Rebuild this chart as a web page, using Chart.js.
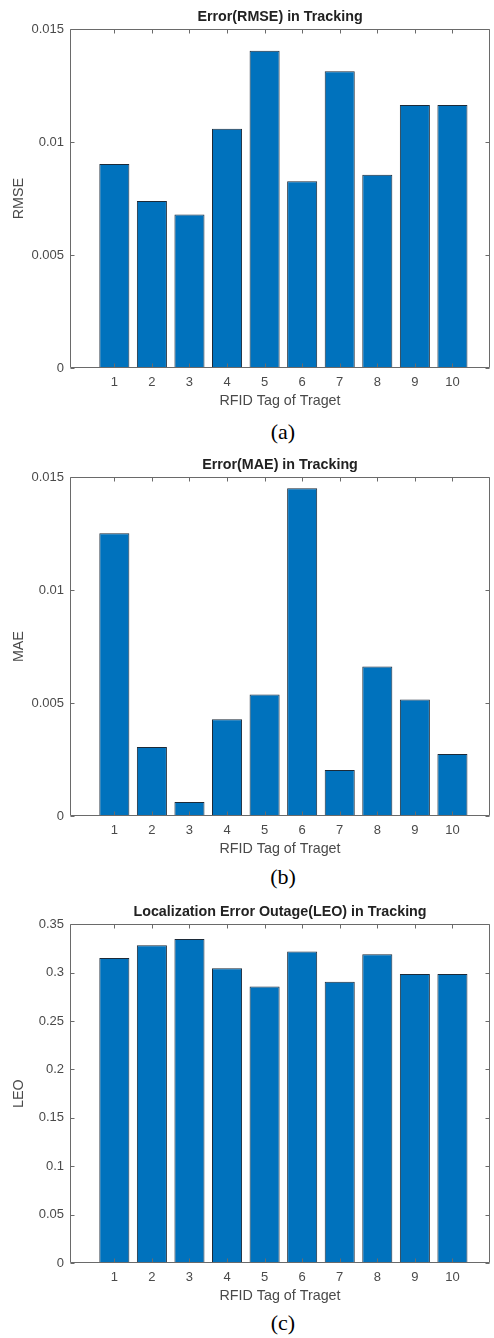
<!DOCTYPE html>
<html>
<head>
<meta charset="utf-8">
<script src="https://cdn.jsdelivr.net/npm/chart.js@4/dist/chart.umd.min.js"></script>
<style>
html,body{margin:0;padding:0;background:#fff;width:494px;height:1338px;overflow:hidden;}
.wrap{position:absolute;left:0;width:494px;height:412px;}
.cap{position:absolute;left:233px;width:100px;text-align:center;font-family:"Liberation Serif","Times New Roman",serif;font-size:22px;line-height:26px;color:#000;}
</style>
</head>
<body>
<div class="wrap" style="top:0px"><canvas id="cA" width="494" height="412"></canvas></div>
<div class="cap" style="top:419px">(a)</div>
<div class="wrap" style="top:448px"><canvas id="cB" width="494" height="412"></canvas></div>
<div class="cap" style="top:864px">(b)</div>
<div class="wrap" style="top:895px"><canvas id="cC" width="494" height="412"></canvas></div>
<div class="cap" style="top:1310px">(c)</div>
<script>
// ---- data ----
const categories = ['1','2','3','4','5','6','7','8','9','10'];
const xPositions = [1,2,3,4,5,6,7,8,9,10];
const rmseValues = [0.00903,0.00739,0.00680,0.01059,0.01404,0.00827,0.01314,0.00855,0.01164,0.01164];
const maeValues  = [0.01252,0.00305,0.00062,0.00428,0.00538,0.01451,0.00204,0.00662,0.00516,0.00274];
const leoValues  = [0.3151,0.3282,0.3348,0.3045,0.2855,0.3217,0.2906,0.3190,0.2986,0.2986];
const errTickValues = [0,0.005,0.01,0.015];
const errTickLabels = ['0','0.005','0.01','0.015'];
const leoTickValues = [0,0.05,0.1,0.15,0.2,0.25,0.3,0.35];
const leoTickLabels = ['0','0.05','0.1','0.15','0.2','0.25','0.3','0.35'];
const xAxisTitle = 'RFID Tag of Traget';

// ---- style ----
const FONT = "'Liberation Sans', Arial, Helvetica, sans-serif";
const BAR_COLOR = '#0072BD';
const EDGE_COLOR = '#1c2a38';
const AXIS_COLOR = '#6a6a6a';
const TEXT_COLOR = '#4a4a4a';

const boxTicks = {
  id: 'boxTicks',
  afterDraw(chart) {
    const ctx = chart.ctx;
    const {left, right, top, bottom} = chart.chartArea;
    const xs = chart.scales.x, ys = chart.scales.y;
    const L = Math.round(left) + 0.5, R = Math.round(right) - 0.5;
    const T = Math.round(top) + 0.5, B = Math.round(bottom) - 0.5;
    ctx.save();
    ctx.strokeStyle = AXIS_COLOR;
    ctx.lineWidth = 1;
    ctx.beginPath();
    ctx.moveTo(L, T); ctx.lineTo(R, T); ctx.lineTo(R, B); ctx.lineTo(L, B); ctx.closePath();
    const tl = 4;
    xs.ticks.forEach(t => {
      const px = Math.round(xs.getPixelForValue(t.value)) + 0.5;
      ctx.moveTo(px, T); ctx.lineTo(px, T + tl);
      ctx.moveTo(px, B); ctx.lineTo(px, B - tl);
    });
    ys.ticks.forEach(t => {
      const py = Math.round(ys.getPixelForValue(t.value)) + 0.5;
      ctx.moveTo(L, py); ctx.lineTo(L + tl, py);
      ctx.moveTo(R, py); ctx.lineTo(R - tl, py);
    });
    ctx.stroke();
    ctx.restore();
  }
};

function makeChart(id, title, yLabel, values, yMax, tickVals, tickLabels) {
  return new Chart(document.getElementById(id), {
    type: 'bar',
    data: {
      datasets: [{
        data: xPositions.map((x, i) => ({x: x, y: values[i]})),
        backgroundColor: BAR_COLOR,
        borderColor: EDGE_COLOR,
        borderWidth: 1,
        borderSkipped: false,
        barPercentage: 0.8,
        categoryPercentage: 1.0
      }]
    },
    options: {
      responsive: false,
      animation: false,
      devicePixelRatio: 1,
      layout: {padding: {top: 0, left: 0, right: 4, bottom: 0}},
      plugins: {
        legend: {display: false},
        tooltip: {enabled: false},
        title: {
          display: true, text: title, fullSize: false,
          color: '#222', font: {family: FONT, size: 14.3, weight: 'bold'},
          padding: {top: 8.9, bottom: 3.1}
        }
      },
      scales: {
        x: {
          type: 'linear', min: -0.18, max: 11, offset: false,
          grid: {display: false, drawTicks: false, offset: false},
          border: {display: false},
          afterBuildTicks: s => { s.ticks = xPositions.map(v => ({value: v})); },
          afterFit: s => { s.height = 44; },
          ticks: {
            autoSkip: false, maxRotation: 0, padding: 7,
            color: TEXT_COLOR, font: {family: FONT, size: 13},
            callback: v => categories[xPositions.indexOf(v)]
          },
          title: {
            display: true, text: xAxisTitle, color: TEXT_COLOR,
            font: {family: FONT, size: 14.3}, padding: {top: 0, bottom: 2.4}
          }
        },
        y: {
          type: 'linear', min: 0, max: yMax,
          grid: {display: false, drawTicks: false},
          border: {display: false},
          afterBuildTicks: s => { s.ticks = tickVals.map(v => ({value: v})); },
          afterFit: s => { s.width = 70; },
          ticks: {
            padding: 6, color: TEXT_COLOR, font: {family: FONT, size: 13},
            callback: v => tickLabels[tickVals.indexOf(v)]
          },
          title: {
            display: true, text: yLabel, color: TEXT_COLOR,
            font: {family: FONT, size: 14.3}, padding: {top: 10.4, bottom: 0}
          }
        }
      }
    },
    plugins: [boxTicks]
  });
}

makeChart('cA', 'Error(RMSE) in Tracking', 'RMSE', rmseValues, 0.015, errTickValues, errTickLabels);
makeChart('cB', 'Error(MAE) in Tracking', 'MAE', maeValues, 0.015, errTickValues, errTickLabels);
makeChart('cC', 'Localization Error Outage(LEO) in Tracking', 'LEO', leoValues, 0.35, leoTickValues, leoTickLabels);
</script>
</body>
</html>
